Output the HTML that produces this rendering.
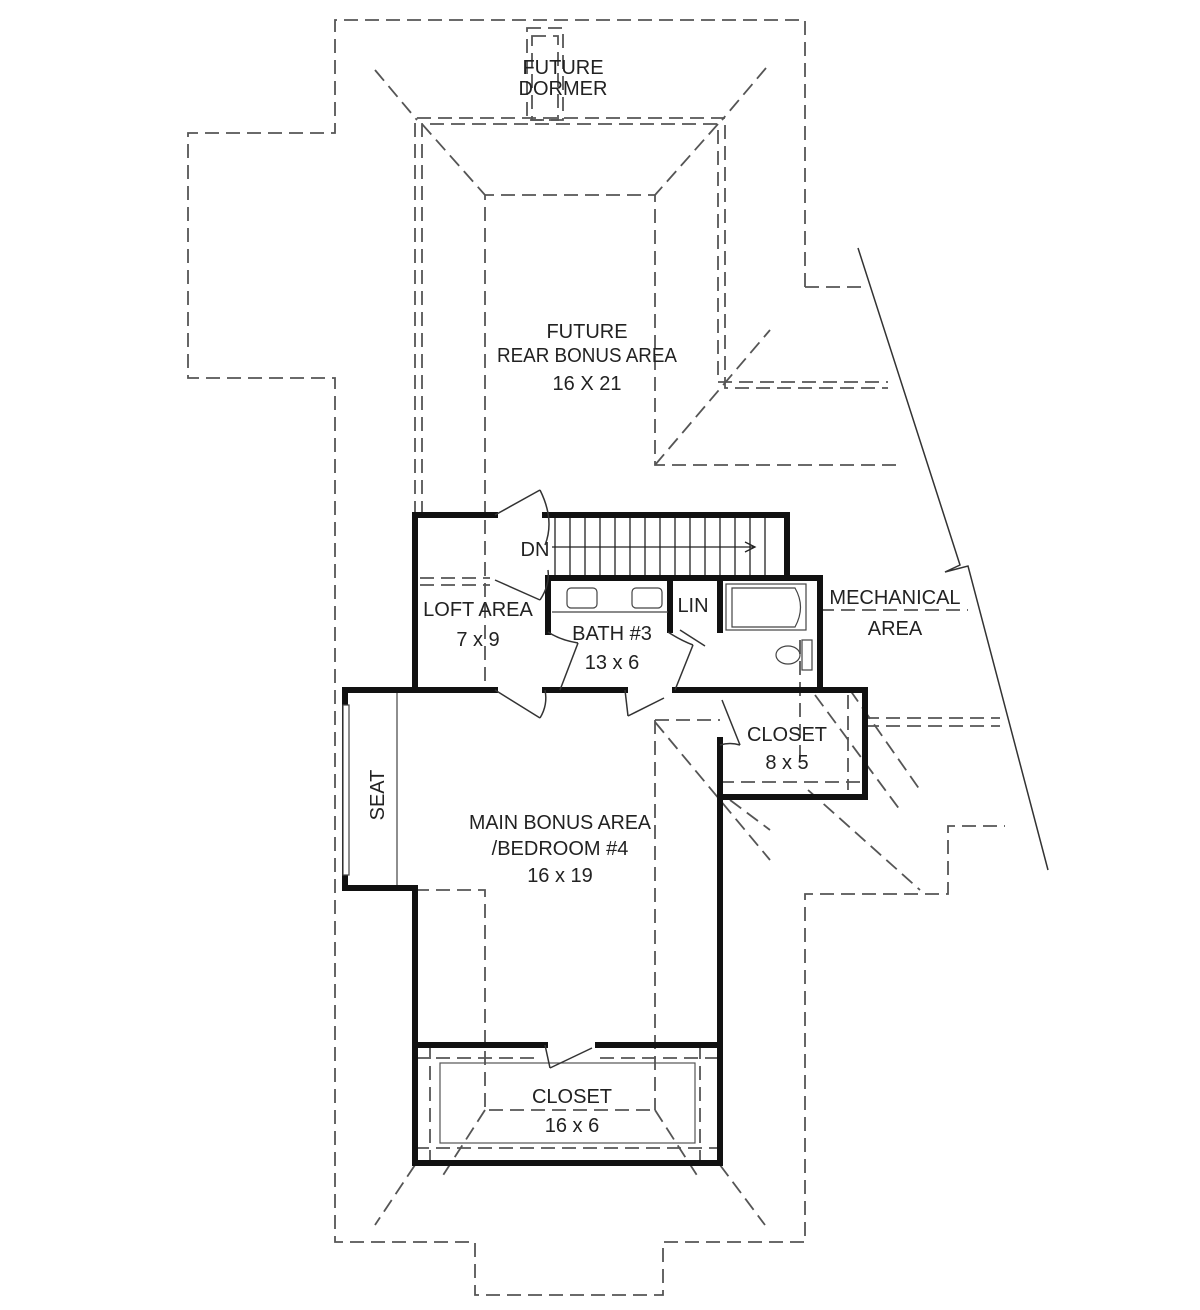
<!DOCTYPE html>
<html><head><meta charset="utf-8"><style>
html,body{margin:0;padding:0;background:#fff;}
svg{display:block;}
text{font-family:"Liberation Sans Narrow","Liberation Sans",sans-serif;font-size:20px;fill:#222;text-anchor:middle;}
</style></head><body>
<svg width="1200" height="1310" viewBox="0 0 1200 1310" xmlns="http://www.w3.org/2000/svg">
<g fill="none" stroke="#555" stroke-width="1.8" stroke-dasharray="14,7">
<polyline points="805,287 805,20 335,20 335,133 188,133 188,378 335,378 335,1242 475,1242 475,1295 663,1295 663,1242 805,1242 805,894 948,894 948,826 1005,826"/>
<polyline points="805,287 865,287"/>
<rect x="527" y="28" width="36" height="92"/>
<rect x="532" y="36" width="26" height="84"/>
<line x1="375" y1="70" x2="417" y2="120"/>
<line x1="766" y1="68" x2="722" y2="120"/>
<polyline points="415,515 415,118 725,118 725,388 888,388"/>
<polyline points="422,515 422,124 718,124 718,382 888,382"/>
<line x1="422" y1="124" x2="485" y2="195"/>
<line x1="718" y1="124" x2="655" y2="195"/>
<polyline points="485,515 485,195 655,195 655,465 900,465"/>
<line x1="655" y1="465" x2="770" y2="330"/>
<line x1="820" y1="610" x2="968" y2="610"/>
<polyline points="865,718 1000,718"/>
<polyline points="865,726 1000,726"/>
<line x1="655" y1="720" x2="655" y2="1110"/>
<line x1="655" y1="720" x2="720" y2="720"/>
<line x1="655" y1="722" x2="770" y2="860"/>
<line x1="815" y1="695" x2="900" y2="810"/>
<line x1="850" y1="690" x2="920" y2="790"/>
<line x1="730" y1="800" x2="770" y2="830"/>
<line x1="808" y1="790" x2="920" y2="890"/>
<line x1="800" y1="640" x2="800" y2="760"/>
<line x1="848" y1="695" x2="848" y2="790"/>
<line x1="720" y1="782" x2="865" y2="782"/>
<polyline points="415,890 485,890 485,1110 655,1110"/>
<line x1="485" y1="1110" x2="440" y2="1180"/>
<line x1="655" y1="1110" x2="700" y2="1180"/>
<line x1="415" y1="1165" x2="375" y2="1225"/>
<line x1="720" y1="1165" x2="765" y2="1225"/>
<line x1="415" y1="1058" x2="540" y2="1058"/>
<line x1="600" y1="1058" x2="720" y2="1058"/>
<line x1="415" y1="1148" x2="720" y2="1148"/>
<line x1="430" y1="1045" x2="430" y2="1160"/>
<line x1="700" y1="1045" x2="700" y2="1160"/>
<line x1="485" y1="520" x2="485" y2="690"/>
<line x1="420" y1="578" x2="490" y2="578"/>
<line x1="420" y1="585" x2="490" y2="585"/>
</g>
<g fill="none" stroke="#555" stroke-width="1.2">
<rect x="440" y="1063" width="255" height="80"/>
</g>
<polyline points="858,248 960,565 945,572 968,566 1048,870" fill="none" stroke="#333" stroke-width="1.5"/>
<g fill="none" stroke="#111" stroke-width="6" stroke-linecap="square">
<polyline points="415,690 415,515 495,515"/>
<polyline points="545,515 787,515 787,575"/>
<polyline points="548,632 548,578 820,578 820,690"/>
<line x1="670" y1="578" x2="670" y2="630"/>
<line x1="720" y1="578" x2="720" y2="630"/>
<line x1="345" y1="690" x2="495" y2="690"/>
<line x1="545" y1="690" x2="625" y2="690"/>
<polyline points="675,690 865,690 865,797 720,797"/>
<polyline points="720,740 720,1163 415,1163 415,888 345,888 345,690"/>
<line x1="415" y1="1045" x2="545" y2="1045"/>
<line x1="598" y1="1045" x2="720" y2="1045"/>
</g>
<g stroke="#444" stroke-width="1.2" fill="none">
<rect x="343" y="705" width="6" height="170" fill="#fff"/>
<line x1="397" y1="693" x2="397" y2="885"/>
</g>
<g stroke="#222" stroke-width="1.3">
<line x1="555" y1="518" x2="555" y2="575"/><line x1="570" y1="518" x2="570" y2="575"/><line x1="585" y1="518" x2="585" y2="575"/><line x1="600" y1="518" x2="600" y2="575"/><line x1="615" y1="518" x2="615" y2="575"/><line x1="630" y1="518" x2="630" y2="575"/><line x1="645" y1="518" x2="645" y2="575"/><line x1="660" y1="518" x2="660" y2="575"/><line x1="675" y1="518" x2="675" y2="575"/><line x1="690" y1="518" x2="690" y2="575"/><line x1="705" y1="518" x2="705" y2="575"/><line x1="720" y1="518" x2="720" y2="575"/><line x1="735" y1="518" x2="735" y2="575"/><line x1="750" y1="518" x2="750" y2="575"/><line x1="765" y1="518" x2="765" y2="575"/>
<line x1="552" y1="547" x2="755" y2="547"/>
<polyline points="745,542 755,547 745,552" fill="none"/>
</g>
<g stroke="#333" stroke-width="1.5" fill="none">
<line x1="495" y1="515" x2="540" y2="490"/><line x1="495" y1="580" x2="540" y2="600"/>
<path d="M540,490 Q555,520 545,545"/><path d="M540,600 Q550,585 548,570"/>
<line x1="495" y1="690" x2="540" y2="718"/><path d="M540,718 Q548,705 545,690"/>
<line x1="560" y1="690" x2="578" y2="643"/><path d="M578,643 Q560,640 548,632"/>
<line x1="675" y1="690" x2="693" y2="645"/><path d="M693,645 Q680,640 668,632"/>
<line x1="625" y1="690" x2="628" y2="716"/><line x1="628" y1="716" x2="664" y2="698"/>
<line x1="680" y1="630" x2="705" y2="646"/>
<line x1="722" y1="700" x2="740" y2="745"/><path d="M740,745 Q730,742 720,745"/>
<line x1="545" y1="1045" x2="550" y2="1068"/><line x1="550" y1="1068" x2="592" y2="1048"/>
</g>
<g stroke="#444" stroke-width="1.2" fill="none">
<line x1="552" y1="612" x2="668" y2="612"/>
<rect x="567" y="588" width="30" height="20" rx="4"/>
<rect x="632" y="588" width="30" height="20" rx="4"/>
<rect x="726" y="584" width="80" height="46"/>
<path d="M732,588 H795 Q806,607 795,627 H732 Z"/>
<rect x="802" y="640" width="10" height="30"/>
<ellipse cx="788" cy="655" rx="12" ry="9"/>
</g>
<text x="563" y="74" font-size="19">FUTURE</text>
<text x="563" y="95" font-size="19">DORMER</text>
<text x="587" y="338">FUTURE</text>
<text x="587" y="362" textLength="180" lengthAdjust="spacingAndGlyphs">REAR BONUS AREA</text>
<text x="587" y="390">16 X 21</text>
<text x="535" y="556">DN</text>
<text x="478" y="616">LOFT AREA</text>
<text x="478" y="646">7 x 9</text>
<text x="612" y="640">BATH #3</text>
<text x="612" y="669">13 x 6</text>
<text x="693" y="612">LIN</text>
<text x="895" y="604">MECHANICAL</text>
<text x="895" y="635">AREA</text>
<text x="787" y="741">CLOSET</text>
<text x="787" y="769">8 x 5</text>
<text x="560" y="829" textLength="182" lengthAdjust="spacingAndGlyphs">MAIN BONUS AREA</text>
<text x="560" y="855">/BEDROOM #4</text>
<text x="560" y="882">16 x 19</text>
<text x="0" y="0" transform="translate(384,795) rotate(-90)">SEAT</text>
<text x="572" y="1103">CLOSET</text>
<text x="572" y="1132">16 x 6</text>
</svg>
</body></html>
